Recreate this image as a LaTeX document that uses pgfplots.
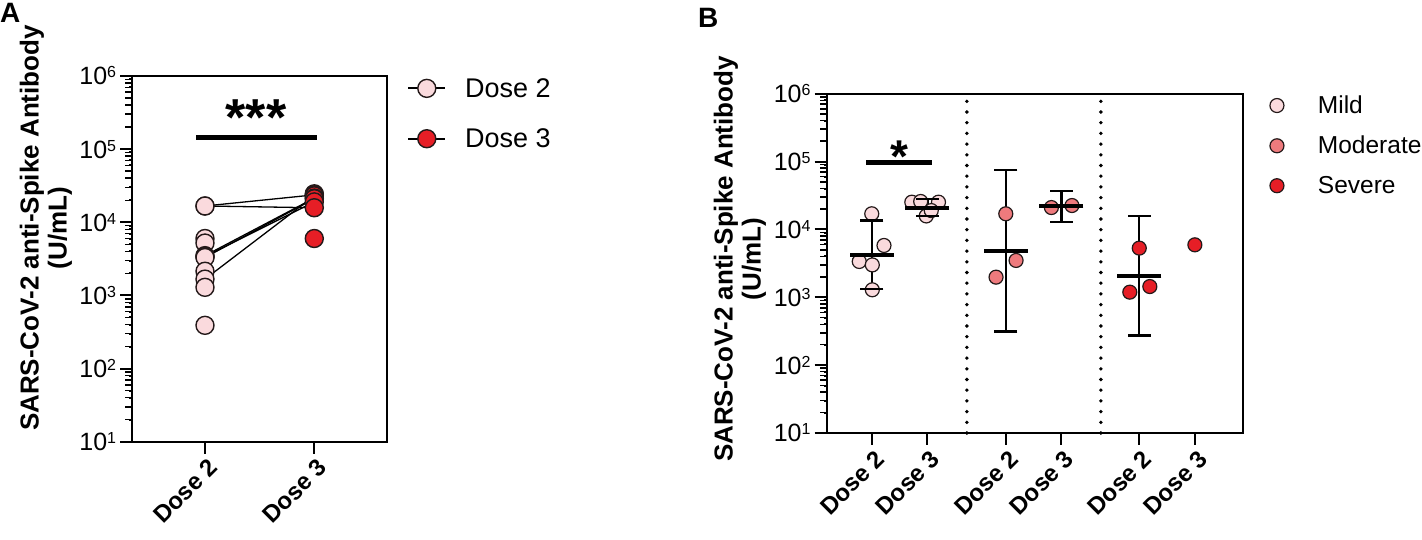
\documentclass[border=0pt]{standalone}
\usepackage{fontspec}
\setmainfont{Liberation Sans}
\usepackage{pgfplots}
\pgfplotsset{compat=1.18}
\definecolor{mild}{RGB}{250,218,221}
\definecolor{moder}{RGB}{238,122,125}
\definecolor{sev}{RGB}{230,30,38}
\definecolor{edge}{RGB}{35,25,25}
\newcommand{\fsz}[1]{\fontsize{#1}{#1}\selectfont}
\newcommand{\tp}{10\raisebox{7pt}{\fsz{16}\pgfmathparse{int(round(\tick/ln(10)))}\pgfmathresult}}
\begin{document}
\begin{tikzpicture}
\useasboundingbox (0,0) rectangle (1422pt,539pt);
% ---------------- Panel A ----------------
\begin{axis}[scale only axis, anchor=south west, at={(132.3pt,97.3pt)}, width=255pt, height=365.7pt,
  ymode=log, ymin=10, ymax=1e6,
  ytick={10,100,1000,10000,100000,1000000},
  yticklabel={\tp},
  tick align=outside, tick pos=left,
  major tick length=12pt,
  tick style={black, line width=2pt},
  axis line style={line width=2.3pt, black},
  yticklabel style={font=\fsz{25}, inner sep=4pt},
  xticklabel style={font=\bfseries\fsz{24}, rotate=45, anchor=north east, inner sep=1pt, yshift=-3pt},
  clip=false,
  xmin=-0.665, xmax=1.668, xtick={0,1}, xticklabels={Dose 2,Dose 3},
  legend style={at={(1.078,1.0)}, anchor=north west, draw=none, fill=none,
    font=\fsz{27}, inner sep=0pt, row sep=26pt, column sep=17pt, cells={anchor=west}},
  legend image code/.code={\draw[black,line width=1.8pt] (0pt,0pt) -- (37pt,0pt); \draw[#1] plot coordinates {(18.5pt,0pt)};}
]
% minor tick marks of the log axis (2..9 per decade), just outside the left axis line
\addplot[only marks, black, mark=-, mark size=3.5pt, mark options={line width=1.5pt}, forget plot]
  coordinates {(-0.697,20) (-0.697,30) (-0.697,40) (-0.697,50) (-0.697,60) (-0.697,70) (-0.697,80) (-0.697,90)
  (-0.697,200) (-0.697,300) (-0.697,400) (-0.697,500) (-0.697,600) (-0.697,700) (-0.697,800) (-0.697,900)
  (-0.697,2000) (-0.697,3000) (-0.697,4000) (-0.697,5000) (-0.697,6000) (-0.697,7000) (-0.697,8000) (-0.697,9000)
  (-0.697,20000) (-0.697,30000) (-0.697,40000) (-0.697,50000) (-0.697,60000) (-0.697,70000) (-0.697,80000) (-0.697,90000)
  (-0.697,200000) (-0.697,300000) (-0.697,400000) (-0.697,500000) (-0.697,600000) (-0.697,700000) (-0.697,800000) (-0.697,900000)};
\addplot[black, line width=1.3pt, forget plot] coordinates {(0,16700) (1,15800)};
\addplot[black, line width=1.3pt, forget plot] coordinates {(0,16700) (1,23700)};
\addplot[black, line width=1.3pt, forget plot] coordinates {(0,3500) (1,21400)};
\addplot[black, line width=1.3pt, forget plot] coordinates {(0,3400) (1,19000)};
\addplot[black, line width=1.3pt, forget plot] coordinates {(0,3300) (1,21000)};
\addplot[black, line width=1.3pt, forget plot] coordinates {(0,1670) (1,23000)};
\addplot[only marks, mark=*, mark size=9pt, mark options={fill=mild, draw=edge, line width=1.4pt}]
  coordinates {(0,16700) (0,16700) (0,6000) (0,5200) (0,3500) (0,3400) (0,3300) (0,2140) (0,1670) (0,1290) (0,390)};
\addlegendentry{Dose 2}
\addplot[only marks, mark=*, mark size=9pt, mark options={fill=sev, draw=edge, line width=1.4pt}]
  coordinates {(1,24500) (1,23700) (1,23000) (1,21400) (1,21000) (1,19000) (1,15800) (1,6000)};
\addlegendentry{Dose 3}
\addplot[black, line width=5pt, forget plot] coordinates {(-0.082,144000) (1.022,144000)};
\node[font=\bfseries\fsz{52}, anchor=base, inner sep=0pt] at (axis cs:0.467,152000) {***};
\end{axis}
% ---------------- Panel B ----------------
\begin{axis}[scale only axis, anchor=south west, at={(826.7pt,106pt)}, width=416pt, height=339.3pt,
  ymode=log, ymin=10, ymax=1e6,
  ytick={10,100,1000,10000,100000,1000000},
  yticklabel={\tp},
  tick align=outside, tick pos=left,
  major tick length=12pt,
  tick style={black, line width=2pt},
  axis line style={line width=2.3pt, black},
  yticklabel style={font=\fsz{25}, inner sep=4pt},
  xticklabel style={font=\bfseries\fsz{24}, rotate=45, anchor=north east, inner sep=1pt, yshift=-3pt},
  clip=false,
  xmin=-0.81, xmax=6.67, xtick={0,1,2.41,3.41,4.81,5.81},
  xticklabels={Dose 2,Dose 3,Dose 2,Dose 3,Dose 2,Dose 3},
  legend style={at={(1.065,1.0)}, anchor=north west, draw=none, fill=none,
    font=\fsz{24.5}, inner sep=0pt, row sep=17pt, column sep=32pt, cells={anchor=west}},
  legend image code/.code={\draw[#1] plot coordinates {(7pt,0pt)};}
]
\addplot[only marks, black, mark=-, mark size=3.5pt, mark options={line width=1.5pt}, forget plot]
  coordinates {(-0.873,20) (-0.873,30) (-0.873,40) (-0.873,50) (-0.873,60) (-0.873,70) (-0.873,80) (-0.873,90)
  (-0.873,200) (-0.873,300) (-0.873,400) (-0.873,500) (-0.873,600) (-0.873,700) (-0.873,800) (-0.873,900)
  (-0.873,2000) (-0.873,3000) (-0.873,4000) (-0.873,5000) (-0.873,6000) (-0.873,7000) (-0.873,8000) (-0.873,9000)
  (-0.873,20000) (-0.873,30000) (-0.873,40000) (-0.873,50000) (-0.873,60000) (-0.873,70000) (-0.873,80000) (-0.873,90000)
  (-0.873,200000) (-0.873,300000) (-0.873,400000) (-0.873,500000) (-0.873,600000) (-0.873,700000) (-0.873,800000) (-0.873,900000)};
\addplot[black, line width=3.8pt, dash pattern=on 0pt off 10.7pt, line cap=round, forget plot] coordinates {(1.71,10) (1.71,1000000)};
\addplot[black, line width=3.8pt, dash pattern=on 0pt off 10.7pt, line cap=round, forget plot] coordinates {(4.12,10) (4.12,1000000)};
\addplot[only marks, mark=*, mark size=7pt, mark options={fill=mild, draw=edge, line width=1.2pt}]
  coordinates {(-0.225,3370) (0.01,3000) (0.22,5800) (0,17000) (0.01,1290)
               (0.72,25200) (0.88,25800) (1.2,25200) (0.98,15800) (1.07,18960)};
\addlegendentry{Mild}
\addplot[only marks, mark=*, mark size=7pt, mark options={fill=moder, draw=edge, line width=1.2pt}]
  coordinates {(2.41,17000) (2.595,3490) (2.235,1980) (3.23,21000) (3.60,22500)};
\addlegendentry{Moderate}
\addplot[only marks, mark=*, mark size=7pt, mark options={fill=sev, draw=edge, line width=1.2pt}]
  coordinates {(4.81,5300) (5.0,1440) (4.64,1190) (5.81,5930)};
\addlegendentry{Severe}
\addplot[black, line width=2.3pt, mark=-, mark size=11.5pt, forget plot] coordinates {(0,1320) (0,13500)};
\addplot[black, line width=2.3pt, mark=-, mark size=11.5pt, forget plot] coordinates {(1,15800) (1,27900)};
\addplot[black, line width=2.3pt, mark=-, mark size=11.5pt, forget plot] coordinates {(2.41,313) (2.41,75500)};
\addplot[black, line width=2.3pt, mark=-, mark size=11.5pt, forget plot] coordinates {(3.41,12800) (3.41,37000)};
\addplot[black, line width=2.3pt, mark=-, mark size=11.5pt, forget plot] coordinates {(4.81,273) (4.81,15800)};
\addplot[only marks, black, mark=-, mark size=22pt, mark options={line width=4pt}, forget plot]
  coordinates {(0,4230) (1,20800) (2.41,4840) (3.41,22200) (4.81,2080)};
\addplot[black, line width=4.7pt, forget plot] coordinates {(-0.10,96600) (1.09,96600)};
\node[font=\bfseries\fsz{46}, anchor=base, inner sep=0pt] at (axis cs:0.496,69300) {*};
\end{axis}
\node[anchor=north west, inner sep=0pt, font=\bfseries\fsz{28}] at (0pt,536pt) {A};
\node[anchor=north west, inner sep=0pt, font=\bfseries\fsz{28}] at (698pt,531pt) {B};
\node[rotate=90, align=center, inner sep=0pt, font=\bfseries\fontsize{26}{28}\selectfont] at (46pt,311pt) {SARS-CoV-2 anti-Spike Antibody\\(U/mL)};
\node[rotate=90, align=center, inner sep=0pt, font=\bfseries\fontsize{26}{28}\selectfont] at (740pt,280pt) {SARS-CoV-2 anti-Spike Antibody\\(U/mL)};
\end{tikzpicture}
\end{document}
